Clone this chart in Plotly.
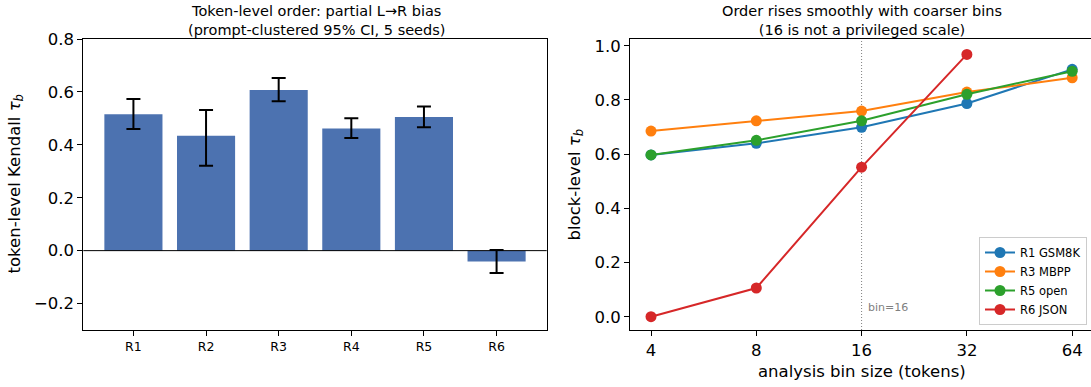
import plotly.graph_objects as go

# ---- data: left panel (token-level Kendall tau_b with 95% CI) ----
tok_cats = ["R1", "R2", "R3", "R4", "R5", "R6"]
tok_tau = [0.516, 0.434, 0.607, 0.462, 0.505, -0.041]
tok_ci_lo = [0.460, 0.321, 0.565, 0.426, 0.466, -0.085]
tok_ci_hi = [0.573, 0.532, 0.653, 0.500, 0.545, 0.002]

# ---- data: right panel (block-level tau_b vs analysis bin size) ----
bins = [4, 8, 16, 32, 64]
r1_gsm8k = [0.597, 0.640, 0.699, 0.787, 0.913]
r3_mbpp = [0.685, 0.723, 0.759, 0.829, 0.882]
r5_open = [0.597, 0.651, 0.723, 0.821, 0.906]
bins_json = [4, 8, 16, 32]
r6_json = [0.0, 0.106, 0.552, 0.968]

FONT = "DejaVu Sans"
W, H = 1091, 387

fig = go.Figure()

err_plus = [h - v for h, v in zip(tok_ci_hi, tok_tau)]
err_minus = [v - l for l, v in zip(tok_ci_lo, tok_tau)]
fig.add_trace(go.Bar(
    x=tok_cats, y=tok_tau, width=0.8,
    marker=dict(color="#4c72b0", line=dict(width=0)),
    error_y=dict(type="data", symmetric=False, array=err_plus, arrayminus=err_minus,
                 color="black", thickness=2, width=7),
    xaxis="x", yaxis="y", showlegend=False,
))

series = [
    ("R1 GSM8K", bins, r1_gsm8k, "#1f77b4"),
    ("R3 MBPP", bins, r3_mbpp, "#ff7f0e"),
    ("R5 open", bins, r5_open, "#2ca02c"),
    ("R6 JSON", bins_json, r6_json, "#d62728"),
]

# dotted reference line at bin=16
fig.add_trace(go.Scatter(
    x=[16, 16], y=[-0.049, 1.025], mode="lines",
    line=dict(color="#808080", width=1, dash="1px,2px"),
    xaxis="x2", yaxis="y2", showlegend=False, hoverinfo="skip",
))

for name, xs, ys, col in series:
    fig.add_trace(go.Scatter(
        x=xs, y=ys, mode="lines+markers", name=name,
        line=dict(color=col, width=2),
        marker=dict(color=col, size=11),
        xaxis="x2", yaxis="y2",
    ))

ydom = [1 - 330 / H, 1 - 39 / H]
axis_common = dict(
    showgrid=False, zeroline=False, showline=True, linecolor="black", linewidth=1,
    mirror=True, ticks="outside", ticklen=5, tickwidth=1, tickcolor="black",
    automargin=False,
)

fig.update_layout(
    width=W, height=H,
    margin=dict(l=0, r=0, t=0, b=0),
    paper_bgcolor="white", plot_bgcolor="white",
    font=dict(family=FONT, color="black"),
    bargap=0.2,
    xaxis=dict(domain=[83.3 / W, 546.7 / W], anchor="y", type="category",
               range=[-0.69, 5.69], tickfont=dict(size=12.5, family=FONT),
               **axis_common),
    yaxis=dict(domain=ydom, anchor="x", range=[-0.3, 0.8],
               tickvals=[-0.2, 0.0, 0.2, 0.4, 0.6, 0.8],
               ticktext=["\u22120.2", "0.0", "0.2", "0.4", "0.6", "0.8"],
               tickfont=dict(size=16.5, family=FONT), **axis_common),
    xaxis2=dict(domain=[630 / W, 1.0], anchor="y2", type="log",
                range=[0.542, 1.860], tickvals=bins, ticktext=[str(b) for b in bins],
                tickfont=dict(size=16.5, family=FONT), **axis_common),
    yaxis2=dict(domain=ydom, anchor="x2", range=[-0.049, 1.025],
                tickvals=[0.0, 0.2, 0.4, 0.6, 0.8, 1.0],
                ticktext=["0.0", "0.2", "0.4", "0.6", "0.8", "1.0"],
                tickfont=dict(size=16.5, family=FONT), **axis_common),
    legend=dict(x=1087 / W, xanchor="right", y=1 - 325 / H, yanchor="bottom",
                bgcolor="white", bordercolor="#cccccc", borderwidth=1,
                font=dict(size=11.5, family=FONT), itemwidth=30,
                tracegroupgap=0),
)

# zero line on left panel
fig.add_shape(type="line", xref="x domain", yref="y", x0=0, x1=1, y0=0, y1=0,
              line=dict(color="black", width=1), layer="above")

ann = []
# titles
ann.append(dict(text="Token-level order: partial L\u2192R bias<br>(prompt-clustered 95% CI, 5 seeds)",
                x=316 / W, y=1 - 1 / H, xref="paper", yref="paper", xanchor="center",
                yanchor="top", showarrow=False, font=dict(size=14.5, family=FONT)))
ann.append(dict(text="Order rises smoothly with coarser bins<br>(16 is not a privileged scale)",
                x=861.5 / W, y=1 - 1 / H, xref="paper", yref="paper", xanchor="center",
                yanchor="top", showarrow=False, font=dict(size=14.5, family=FONT)))
# axis titles
ann.append(dict(text="token-level Kendall <i>\u03c4</i><sub><i>b</i></sub>",
                x=15 / W, y=1 - 184.5 / H, xref="paper", yref="paper", textangle=-90,
                xanchor="center", yanchor="middle", showarrow=False,
                font=dict(size=16.5, family=FONT)))
ann.append(dict(text="block-level <i>\u03c4</i><sub><i>b</i></sub>",
                x=575 / W, y=1 - 184.5 / H, xref="paper", yref="paper", textangle=-90,
                xanchor="center", yanchor="middle", showarrow=False,
                font=dict(size=16.5, family=FONT)))
ann.append(dict(text="analysis bin size (tokens)",
                x=861.5 / W, y=1 - 371 / H, xref="paper", yref="paper",
                xanchor="center", yanchor="middle", showarrow=False,
                font=dict(size=16.5, family=FONT)))
# bin=16 label
ann.append(dict(text="bin=16", x=1.2041, y=0.035, xref="x2", yref="y2",
                xanchor="left", yanchor="middle", xshift=4, showarrow=False,
                font=dict(size=11, family=FONT, color="#808080")))
fig.update_layout(annotations=ann)

fig.write_html("out.html", config={"displayModeBar": False},
               post_script="document.body.style.margin='0';")
